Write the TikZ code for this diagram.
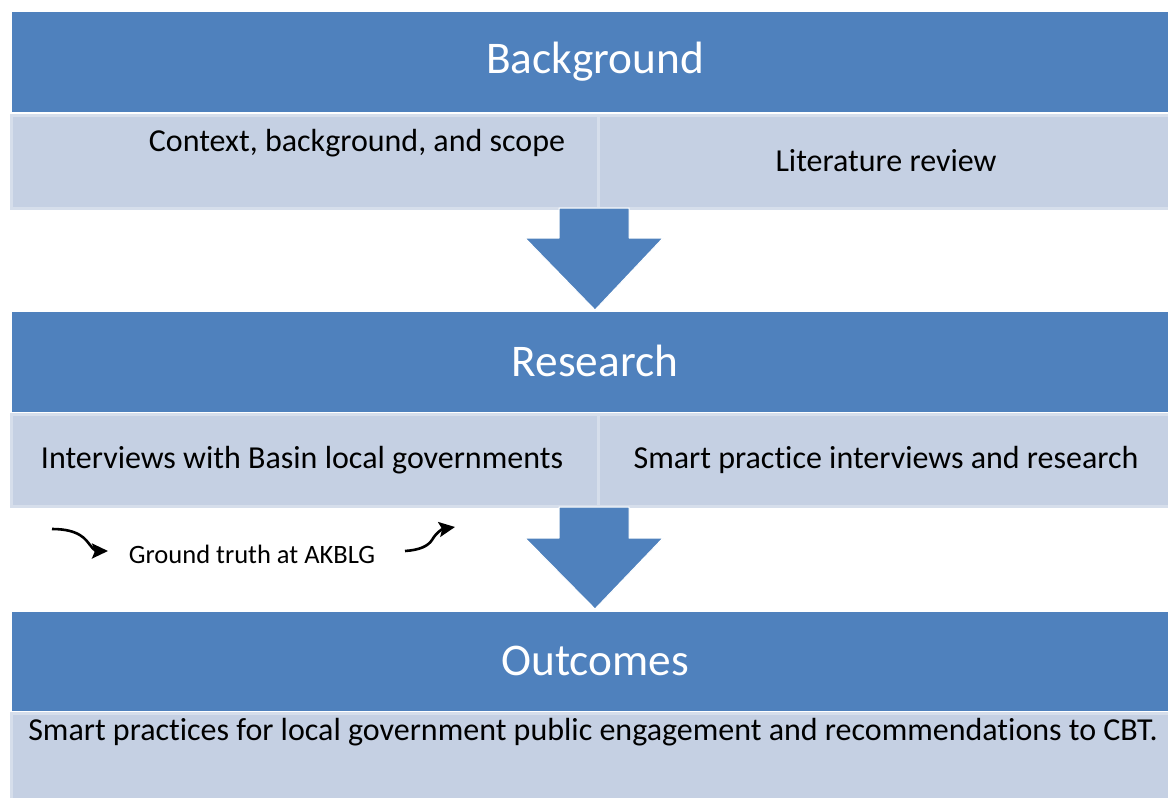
\documentclass[tikz,border=0pt]{standalone}
\usepackage{fontspec}
\setmainfont{Carlito}[Ligatures=NoCommon]
\usetikzlibrary{arrows.meta}
\definecolor{hdrblue}{RGB}{79,129,189}
\definecolor{cellfill}{RGB}{197,208,227}
\definecolor{celledge}{RGB}{214,222,235}
\begin{document}
\begin{tikzpicture}[x=1pt,y=-1pt,
  header/.style={fill=hdrblue, inner sep=0pt, anchor=north west},
  headtext/.style={text=white, inner sep=0pt, font=\fontsize{45.3}{52}\selectfont},
  cellbox/.style={fill=cellfill, draw=celledge, line width=3pt, inner sep=0pt, anchor=north west},
  celltext/.style={text=black, inner sep=0pt, font=\fontsize{32}{38}\selectfont},
  smalltext/.style={text=black, inner sep=0pt, font=\fontsize{26.5}{31}\selectfont},
  blockarrow/.style={fill=hdrblue, draw=white, line width=1pt, line join=round},
  curvy/.style={line width=2.6pt, -{Stealth[length=16pt,width=15pt,inset=3pt]}}]
\useasboundingbox (0,0) rectangle (1168,798);
\fill[white] (0,0) rectangle (1168,798);
% Background
\node[header, minimum width=1166pt, minimum height=100pt] (bg) at (12,12) {};
\node[headtext] (bgt) at (595,62) {Background};
\node[cellbox, minimum width=587pt, minimum height=93pt] (bgl) at (9.5,113.5) {};
\node[cellbox, minimum width=580pt, minimum height=93pt] (bgr) at (596.5,113.5) {};
\node[celltext] (bglt) at (357,143) {Context, background, and scope};
\node[celltext] (bgrt) at (886,161) {Literature review};
% arrow 1
\fill[blockarrow] (559,208) -- (629,208) -- (629,238) -- (663,238) -- (595,310) -- (525,238) -- (559,238) -- cycle;
% Research
\node[header, minimum width=1166pt, minimum height=100pt] (rs) at (12,312) {};
\node[headtext] (rst) at (595,361) {Research};
\node[cellbox, minimum width=587pt, minimum height=92pt] (rsl) at (9.5,412.5) {};
\node[cellbox, minimum width=580pt, minimum height=92pt] (rsr) at (596.5,412.5) {};
\node[celltext] (rslt) at (302,460) {Interviews with Basin local governments};
\node[celltext] (rsrt) at (886,460) {Smart practice interviews and research};
% arrow 2
\fill[blockarrow] (559,507) -- (629,507) -- (629,538) -- (663,538) -- (595,609) -- (525,538) -- (559,538) -- cycle;
% ground truth
\node[smalltext] (gt) at (252,554) {Ground truth at AKBLG};
\coordinate (la) at (52,529);
\coordinate (lb) at (108,551);
\coordinate (ra) at (405,551);
\coordinate (rb) at (455,527);
\draw[curvy] (la) .. controls (80,529) and (86,540) .. (90,545) .. controls (93,549) and (96,551) .. (lb);
\draw[curvy] (ra) .. controls (420,550) and (428,546) .. (432,540) .. controls (436,533) and (442,529) .. (rb);
% Outcomes
\node[header, minimum width=1166pt, minimum height=99pt] (oc) at (12,612) {};
\node[headtext] (oct) at (595,661) {Outcomes};
\node[cellbox, minimum width=1170pt, minimum height=95pt] (ocb) at (9.5,711.5) {};
\node[celltext] (ocbt) at (593,732) {Smart practices for local government public engagement and recommendations to CBT.};
\end{tikzpicture}
\end{document}
